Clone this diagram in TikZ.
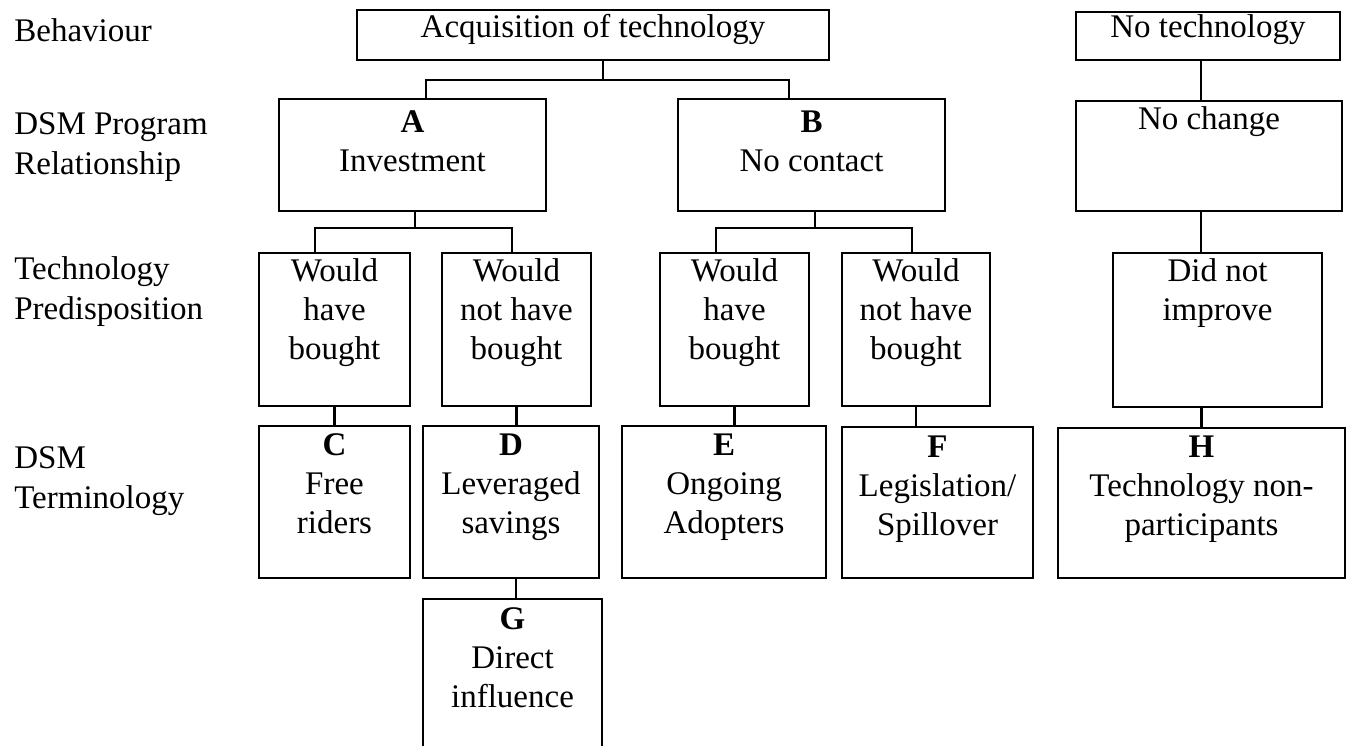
\documentclass[tikz,border=0pt]{standalone}
\usepackage{fontspec}
\setmainfont{Liberation Serif}
\newcommand{\boxtext}[4][28pt]{\parbox[c][#3][t]{#2}{\centering\rule{0pt}{#1}#4}}

\begin{document}
\begin{tikzpicture}[x=1pt, y=-1pt, line width=2.7pt]
\tikzstyle{every node} = [font=\fontsize{33}{39}\selectfont, inner sep=0pt];
\tikzstyle{box} = [draw, anchor=north west, outer sep=0pt];
\tikzstyle{rowlabel} = [anchor=north west, align=left, font=\fontsize{33}{40}\selectfont];
\useasboundingbox (0,0) rectangle (1352,746);
\clip (0,0) rectangle (1352,746);
\node[rowlabel] (lbeh) at (13,12.3) {\strut Behaviour};
\node[rowlabel] (lrel) at (13,105) {\strut DSM Program\\Relationship};
\node[rowlabel] (lpre) at (13,250.3) {\strut Technology\\Predisposition};
\node[rowlabel] (lter) at (13,439.3) {\strut DSM\\Terminology};
\node[box] (acq) at (357,10) {\boxtext{472pt}{50pt}{Acquisition of technology}};
\node[box] (notech) at (1076,12) {\boxtext[26pt]{264pt}{48pt}{No technology}};
\node[box] (A) at (279,99) {\boxtext[34pt]{267pt}{112pt}{\textbf{A}\\Investment}};
\node[box] (B) at (678,99) {\boxtext[34pt]{267pt}{112pt}{\textbf{B}\\No contact}};
\node[box] (nochg) at (1076,101) {\boxtext[29pt]{266pt}{110pt}{No change}};
\node[box] (b1) at (259,253) {\boxtext{151pt}{153pt}{Would\\have\\bought}};
\node[box] (b2) at (442,253) {\boxtext{149pt}{153pt}{Would\\not have\\bought}};
\node[box] (b3) at (660,253) {\boxtext{149pt}{153pt}{Would\\have\\bought}};
\node[box] (b4) at (842,253) {\boxtext{148pt}{153pt}{Would\\not have\\bought}};
\node[box] (dni) at (1113,253) {\boxtext{209pt}{154pt}{Did not\\improve}};
\node[box] (C) at (259,426) {\boxtext[29pt]{151pt}{152pt}{\textbf{C}\\Free\\riders}};
\node[box] (D) at (423,426) {\boxtext[29pt]{176pt}{152pt}{\textbf{D}\\Leveraged\\savings}};
\node[box] (E) at (622,426) {\boxtext[29pt]{204pt}{152pt}{\textbf{E}\\Ongoing\\Adopters}};
\node[box] (F) at (842,427) {\boxtext[30pt]{191pt}{151pt}{\textbf{F}\\Legislation/\\Spillover}};
\node[box] (H) at (1058,428) {\boxtext[29pt]{287pt}{150pt}{\textbf{H}\\Technology non-\\participants}};
\node[box] (G) at (423,599) {\boxtext[30pt]{179pt}{200pt}{\textbf{G}\\Direct\\influence}};
\draw ([xshift=10]acq.south) -- ++(0,20);
\draw ([xshift=13.5]A.north) -- ++(0,-19) -| ([xshift=-22.5]B.north);
\draw ([xshift=2.5]A.south) -- ++(0,17);
\draw ([xshift=-19.5]b1.north) -- ++(0,-25) -| ([xshift=-4.5]b2.north);
\draw ([xshift=3.5]B.south) -- ++(0,17);
\draw ([xshift=-18.5]b3.north) -- ++(0,-25) -| ([xshift=-4]b4.north);
\draw ([xshift=-7]notech.south) -- ([xshift=-7]notech.south |- nochg.north);
\draw ([xshift=-7]notech.south |- nochg.south) -- ([xshift=-7]notech.south |- dni.north);
\draw (b1.south) -- (C.north);
\draw (b2.south) -- (b2.south |- D.north);
\draw (b3.south) -- (b3.south |- E.north);
\draw (b4.south) -- (b4.south |- F.north);
\draw (H.north |- dni.south) -- (H.north);
\draw ([xshift=5]D.south) -- ([xshift=5]D.south |- G.north);
\end{tikzpicture}
\end{document}
